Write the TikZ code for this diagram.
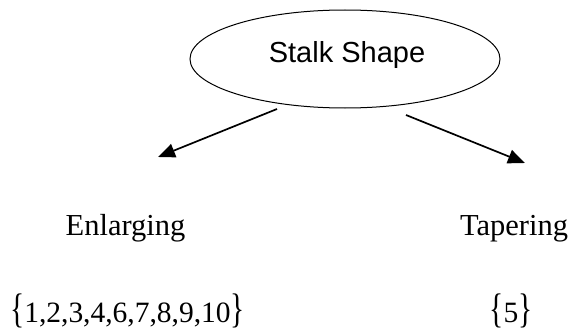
\documentclass[tikz,border=0pt]{standalone}
\usepackage{fontspec}
\usepackage{graphicx}
\setmainfont{Liberation Serif}
\newfontfamily\arialfont{Liberation Sans}
\usetikzlibrary{shapes.geometric,arrows.meta}
% tall, narrow set braces
\newcommand{\openset}{\scalebox{1}[1.4]{\{}}
\newcommand{\closeset}{\scalebox{1}[1.4]{\}}}
\begin{document}
\begin{tikzpicture}[x=1pt,y=1pt,
  rootbox/.style={ellipse,draw,line width=1pt,minimum width=310pt,minimum height=98pt,inner sep=0pt},
  label/.style={anchor=base,inner sep=0pt,font=\fontsize{30.5}{36}\selectfont},
  setlabel/.style={anchor=base,inner sep=0pt,font=\fontsize{29.5}{36}\selectfont},
  branch/.style={line width=1.7pt,-{Triangle[length=17pt,width=14pt]}}]
  \useasboundingbox (0,0) rectangle (574,333);
  \node[rootbox] (root) at (345,274) {};
  \node[anchor=base,inner sep=0pt,font=\arialfont\fontsize{29}{34}\selectfont] (title) at (347,271) {Stalk Shape};
  \coordinate (lstart) at (277,224);
  \coordinate (lend) at (158,176);
  \coordinate (rstart) at (406,218);
  \coordinate (rend) at (525,170);
  \draw[branch] (lstart) -- (lend);
  \draw[branch] (rstart) -- (rend);
  \node[label] (enl) at (125.5,98) {Enlarging};
  \node[label] (tap) at (514,98) {Tapering};
  \node[setlabel] (enlset) at (127.5,11) {\openset1,2,3,4,6,7,8,9,10\closeset};
  \node[setlabel] (tapset) at (511,11) {\openset5\closeset};
\end{tikzpicture}
\end{document}
